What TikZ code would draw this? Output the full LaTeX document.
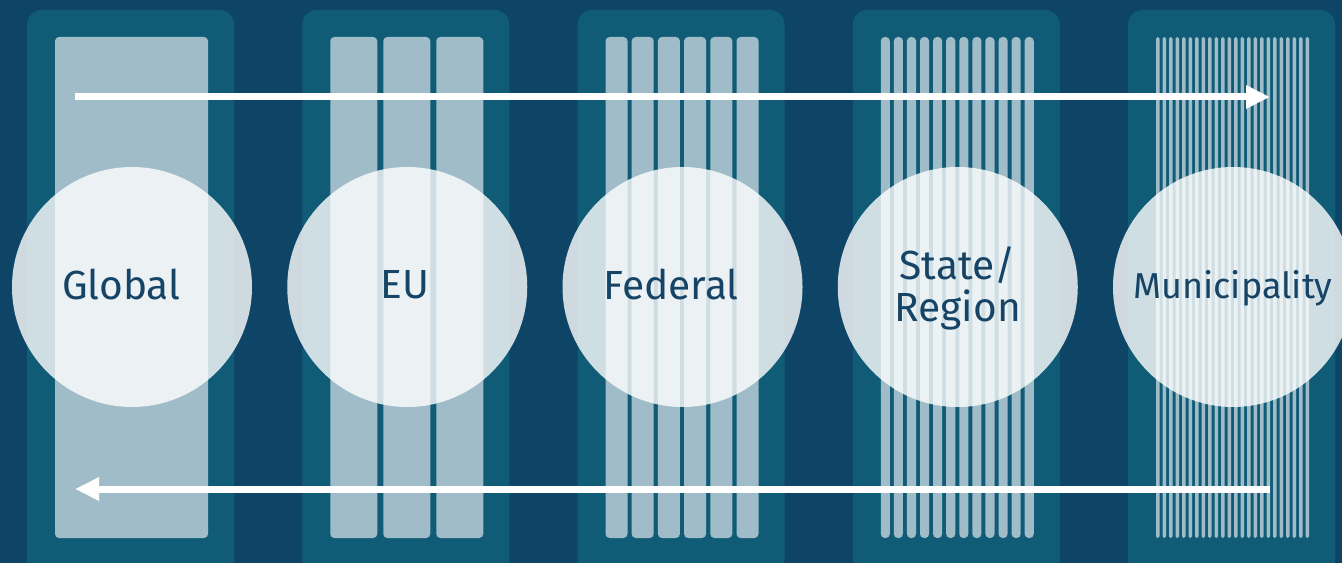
\documentclass[tikz,border=0pt]{standalone}
\usepackage{fontspec}
\setmainfont{Fira Sans}
\usetikzlibrary{arrows.meta}
\definecolor{navybg}{RGB}{14,69,102}
\definecolor{panelcol}{RGB}{16,92,119}
\definecolor{barcol}{RGB}{160,188,200}
\definecolor{lvltext}{RGB}{22,68,102}

\begin{document}
\begin{tikzpicture}[x=0.75pt,y=0.75pt,yscale=-1,xscale=1,
  panel/.style={fill=panelcol,rounded corners=11pt},
  bar/.style={fill=barcol,rounded corners=3pt},
  thinbar/.style={fill=barcol,rounded corners=1.2pt},
  lvl/.style={circle,fill=white,fill opacity=0.8,text opacity=1,minimum size=180pt,inner sep=0pt,
    text=lvltext,align=center,text depth=4pt,font=\fontsize{30.5}{31.5}\selectfont},
  flow/.style={draw=white,line width=5.25pt,-{Triangle[length=18pt,width=16.5pt]}}]
%set diagram from 0 to 1342 wide and 563 high
\clip (0,0) rectangle (1342,563);
\fill [navybg] (0,0) rectangle (1342,563);
%Shape: Rounded Rectangles (panels)
\fill [panel] (27,10) rectangle (234,575);
\fill [panel] (302.25,10) rectangle (509.25,575);
\fill [panel] (577.5,10) rectangle (784.5,575);
\fill [panel] (852.75,10) rectangle (1059.75,575);
\fill [panel] (1128,10) rectangle (1335,575);
%Shape: Bars, one
\fill [bar] (55,37) rectangle (208,538);
%Shape: Bars, three
\fill [bar] (330.25,37) rectangle (377.25,538);
\fill [bar] (383.25,37) rectangle (430.25,538);
\fill [bar] (436.25,37) rectangle (483.25,538);
%Shape: Bars, six
\fill [bar] (605.5,37) rectangle (627.5,538);
\fill [bar] (631.7,37) rectangle (653.7,538);
\fill [bar] (657.9,37) rectangle (679.9,538);
\fill [bar] (684.1,37) rectangle (706.1,538);
\fill [bar] (710.3,37) rectangle (732.3,538);
\fill [bar] (736.5,37) rectangle (758.5,538);
%Shape: Bars, twelve
\fill [bar] (880.75,37) rectangle (889.83,538);
\fill [bar] (893.83,37) rectangle (902.92,538);
\fill [bar] (906.92,37) rectangle (916,538);
\fill [bar] (920,37) rectangle (929.08,538);
\fill [bar] (933.08,37) rectangle (942.17,538);
\fill [bar] (946.17,37) rectangle (955.25,538);
\fill [bar] (959.25,37) rectangle (968.33,538);
\fill [bar] (972.33,37) rectangle (981.42,538);
\fill [bar] (985.42,37) rectangle (994.5,538);
\fill [bar] (998.5,37) rectangle (1007.58,538);
\fill [bar] (1011.58,37) rectangle (1020.67,538);
\fill [bar] (1024.67,37) rectangle (1033.75,538);
%Shape: Bars, twenty-four
\fill [thinbar] (1156,37) rectangle (1159.5,538);
\fill [thinbar] (1162.5,37) rectangle (1166,538);
\fill [thinbar] (1169,37) rectangle (1172.5,538);
\fill [thinbar] (1175.5,37) rectangle (1179,538);
\fill [thinbar] (1182,37) rectangle (1185.5,538);
\fill [thinbar] (1188.5,37) rectangle (1192,538);
\fill [thinbar] (1195,37) rectangle (1198.5,538);
\fill [thinbar] (1201.5,37) rectangle (1205,538);
\fill [thinbar] (1208,37) rectangle (1211.5,538);
\fill [thinbar] (1214.5,37) rectangle (1218,538);
\fill [thinbar] (1221,37) rectangle (1224.5,538);
\fill [thinbar] (1227.5,37) rectangle (1231,538);
\fill [thinbar] (1234,37) rectangle (1237.5,538);
\fill [thinbar] (1240.5,37) rectangle (1244,538);
\fill [thinbar] (1247,37) rectangle (1250.5,538);
\fill [thinbar] (1253.5,37) rectangle (1257,538);
\fill [thinbar] (1260,37) rectangle (1263.5,538);
\fill [thinbar] (1266.5,37) rectangle (1270,538);
\fill [thinbar] (1273,37) rectangle (1276.5,538);
\fill [thinbar] (1279.5,37) rectangle (1283,538);
\fill [thinbar] (1286,37) rectangle (1289.5,538);
\fill [thinbar] (1292.5,37) rectangle (1296,538);
\fill [thinbar] (1299,37) rectangle (1302.5,538);
\fill [thinbar] (1305.5,37) rectangle (1309,538);

% Circle Nodes
\node [lvl] (global) at (132,287) {Global\hspace*{16pt}};
\node [lvl] (eu) at (407.25,287) {EU\hspace*{4pt}};
\node [lvl] (federal) at (682.5,287) {Federal\hspace*{17pt}};
\node [lvl] (state) at (957.75,287) {State/\\Region};
\node [lvl,font=\fontsize{27}{28}\selectfont] (municipality) at (1233,287) {Municipality};

%Straight Lines (arrows)
\coordinate (topL) at (75,97);
\coordinate (topR) at (1270,97);
\coordinate (botR) at (1270,489);
\coordinate (botL) at (75,489);
\draw [flow] (topL) -- (topR);
\draw [flow] (botR) -- (botL);
\end{tikzpicture}
\end{document}
